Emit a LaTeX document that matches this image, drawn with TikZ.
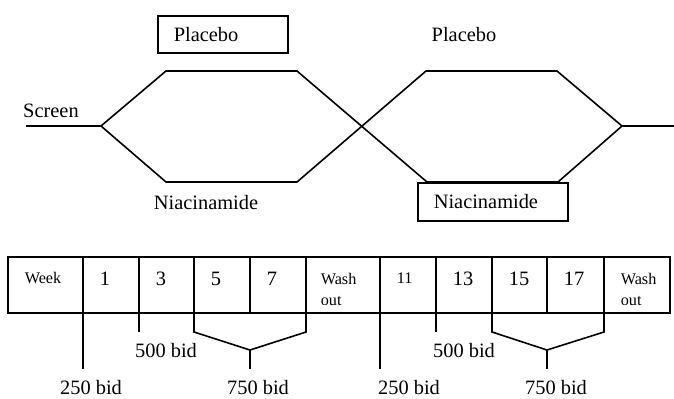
\documentclass[tikz,border=0pt]{standalone}
\usepackage{fontspec}
\setmainfont{Liberation Serif}
\tikzset{
  armbox/.style={draw,anchor=north west,inner xsep=8pt,inner ysep=0pt,align=left},
  big/.style={inner sep=0pt,anchor=base west,font=\fontsize{10.2}{12}\selectfont},
  small/.style={inner sep=0pt,anchor=base west,font=\fontsize{8.1}{10.5}\selectfont},
  washout/.style={small,anchor=north west,align=left},
  dose/.style={inner sep=5.5pt}
}
\begin{document}
\begin{tikzpicture}[x=0.5pt,y=-0.5pt,thick,font=\fontsize{10.2}{12}\selectfont]
    \useasboundingbox(0,0)rectangle(674,398);
    % the two arms and the cross-over
    \coordinate(s0)at(26,126);\coordinate(s1)at(101,126);
    \coordinate(p1)at(166,71);\coordinate(p2)at(297,71);
    \coordinate(n1)at(166,182);\coordinate(n2)at(297,182);
    \coordinate(p3)at(426,71);\coordinate(p4)at(557,71);
    \coordinate(n3)at(427,182);\coordinate(n4)at(558,182);
    \coordinate(e1)at(622,126);\coordinate(e2)at(674,126);
    \draw(s0)--(s1)--(p1)--(p2)--(n3)--(n4)--(e1)--(e2);
    \draw(s1)--(n1)--(n2)--(p3)--(p4)--(e1);
    \node(scr)at(51,111){Screen};
    \node[armbox,text width=49pt,minimum height=18.5pt](plc1)at(157,15){Placebo};
    \node(plc2)at(464,35){Placebo};
    \node(nia1)at(206,203){Niacinamide};
    \node[armbox,text width=59pt,minimum height=19pt](nia2)at(417,182){Niacinamide};
    % week table
    \foreach \x[count=\i from 0] in {8,83,139,194,250,306,380,436,492,547,604,670}{
        \coordinate(t\i)at(\x,257);\coordinate(c\i)at(\x,313);}
    \draw(t0)rectangle(c11);
    \foreach \i in {1,...,10}\draw(t\i)--(c\i);
    \node[small]at([shift={(16,26)}]t0){Week};
    \foreach \i/\w in {1/1,2/3,3/5,4/7,7/13,8/15,9/17}
        \node[big]at([shift={(16,28)}]t\i){\w};
    \node[small]at([shift={(16,26)}]t6){11};
    \node[washout]at([shift={(14,15)}]t5){Wash\\out};
    \node[washout]at([shift={(16,15)}]t10){Wash\\out};
    % doses
    \node[dose](d250a)at(91,388){250 bid};\node[dose](d500a)at(166,351){500 bid};
    \node[dose](d750a)at(258,388){750 bid};
    \node[dose](d250b)at(409,388){250 bid};\node[dose](d500b)at(464,351){500 bid};
    \node[dose](d750b)at(556,388){750 bid};
    \coordinate(k1)at(250,350);\coordinate(k2)at(547,350);
    \draw(c1)--(d250a.north-|c1);\draw(c2)--(d500a.north-|c2);
    \draw(c3)--(194,332)--(k1)--(306,332)--(c5);\draw(k1)--(d750a.north-|k1);
    \draw(c6)--(d250b.north-|c6);\draw(c7)--(d500b.north-|c7);
    \draw(c8)--(492,332)--(k2)--(604,332)--(c10);\draw(k2)--(d750b.north-|k2);
\end{tikzpicture}
\end{document}
